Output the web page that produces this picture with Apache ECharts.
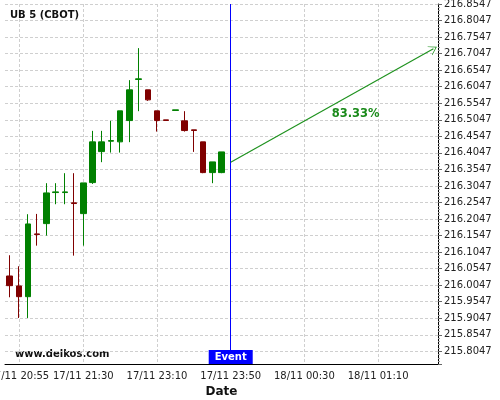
<!DOCTYPE html>
<html>
<head>
<meta charset="utf-8">
<script src="https://cdn.jsdelivr.net/npm/echarts@6/dist/echarts.min.js"></script>
<style>
  html, body { margin: 0; padding: 0; background: #fff; }
  #chart { width: 500px; height: 400px; }
</style>
</head>
<body>
<div id="chart"></div>
<script>
// 5-minute bars, session break between 22:05 and 23:10
const CATEGORIES = [
  '17/11 20:50', '17/11 20:55', '17/11 21:00', '17/11 21:05', '17/11 21:10', '17/11 21:15',
  '17/11 21:20', '17/11 21:25', '17/11 21:30', '17/11 21:35', '17/11 21:40', '17/11 21:45',
  '17/11 21:50', '17/11 21:55', '17/11 22:00', '17/11 22:05', '17/11 23:10', '17/11 23:15',
  '17/11 23:20', '17/11 23:25', '17/11 23:30', '17/11 23:35', '17/11 23:40', '17/11 23:45',
  '17/11 23:50', '17/11 23:55', '18/11 00:00', '18/11 00:05', '18/11 00:10', '18/11 00:15',
  '18/11 00:20', '18/11 00:25', '18/11 00:30', '18/11 00:35', '18/11 00:40', '18/11 00:45',
  '18/11 00:50', '18/11 00:55', '18/11 01:00', '18/11 01:05', '18/11 01:10', '18/11 01:15',
  '18/11 01:20', '18/11 01:25', '18/11 01:30', '18/11 01:35', '18/11 01:40'
];
const X_LABELS = ['17/11 20:55', '17/11 21:30', '17/11 23:10', '17/11 23:50', '18/11 00:30', '18/11 01:10'];

const OPEN = [216.0325, 216.0023, 215.9699, 216.1597, 216.1908, 216.2847, 216.2847, 216.2535,
  216.2210, 216.3148, 216.4085, 216.4399, 216.4379, 216.5023, 216.6265, 216.5952,
  216.5317, 216.5045, 216.5328, 216.5014, 216.4743, 216.4379, 216.3450, 216.3450];
const CLOSE = [216.0032, 215.9699, 216.1898, 216.1577, 216.2836, 216.2867, 216.2867, 216.2515,
  216.3139, 216.4379, 216.4379, 216.4419, 216.5317, 216.5952, 216.6285, 216.5649,
  216.5023, 216.5025, 216.5348, 216.4721, 216.4723, 216.3450, 216.3774, 216.4076];
const LOW = [215.9681, 215.9055, 215.9055, 216.1242, 216.1545, 216.2494, 216.2494, 216.0940,
  216.1242, 216.3108, 216.3765, 216.4055, 216.4055, 216.4370, 216.5307, 216.5619,
  216.4690, 216.5025, 216.5328, 216.4690, 216.4076, 216.3432, 216.3130, 216.3432];
const HIGH = [216.0952, 216.0619, 216.2192, 216.2201, 216.3130, 216.3130, 216.3432, 216.3432,
  216.3139, 216.4712, 216.4712, 216.5014, 216.5317, 216.6245, 216.7213, 216.5952,
  216.5317, 216.5045, 216.5348, 216.5307, 216.4743, 216.4379, 216.3774, 216.4076];

const EVENT_INDEX = 24;
const ARROW_FROM = [24, 216.3765];
const ARROW_TO = [46, 216.7192];
const PROB_LABEL = '83.33%';
const PROB_AT = [38, 216.5271];

const Y_MIN = 215.7664;
const Y_MAX = 216.8547;
// tick labels sit at x.xx47, so the axis runs on prices shifted by this amount
const OFFSET = 0.0047;

const shift = (v) => +(v - OFFSET).toFixed(4);
const FONT = 'DejaVu Sans';

const chart = echarts.init(document.getElementById('chart'));

const candles = OPEN.map((o, i) => [shift(o), shift(CLOSE[i]), shift(LOW[i]), shift(HIGH[i])]);
const showLabel = (idx, val) => X_LABELS.indexOf(val) >= 0;
const showTick = (idx) => idx === 1 || idx === 3 || idx === 5 || (idx >= 6 && idx % 2 === 0);

const option = {
  animation: false,
  title: {
    text: 'UB 5 (CBOT)',
    left: 10,
    top: 10,
    padding: 0,
    textStyle: { fontFamily: FONT, fontSize: 10, fontWeight: 'bold', color: '#111' },
  },
  graphic: [
    {
      type: 'text',
      left: 15,
      top: 349,
      style: { text: 'www.delkos.com', font: 'bold 10px "DejaVu Sans"', fill: '#111' },
    },
  ],
  grid: { left: 5, right: 62, top: 4, bottom: 36, containLabel: false, outerBoundsMode: 'none' },
  xAxis: {
    type: 'category',
    data: CATEGORIES,
    boundaryGap: true,
    name: 'Date',
    nameLocation: 'middle',
    nameGap: 20,
    nameTextStyle: { fontFamily: FONT, fontSize: 12, fontWeight: 'bold', color: '#111' },
    axisLine: { lineStyle: { color: '#000', width: 1 } },
    axisTick: { alignWithLabel: true, interval: showTick, length: 3, lineStyle: { color: '#888' } },
    axisLabel: { interval: showLabel, margin: 7, fontFamily: FONT, fontSize: 10, color: '#222' },
    splitLine: {
      show: true,
      alignWithLabel: true,
      interval: showLabel,
      lineStyle: { color: '#cfcfcf', type: [3, 2] },
    },
  },
  yAxis: {
    type: 'value',
    position: 'right',
    min: shift(Y_MIN),
    max: shift(Y_MAX),
    splitNumber: 21,
    scale: true,
    axisLine: { show: true, lineStyle: { color: '#000', width: 1 } },
    axisTick: { show: true, length: 4, lineStyle: { color: '#666' } },
    minorTick: { show: true, splitNumber: 5, length: 2, lineStyle: { color: '#999' } },
    axisLabel: {
      showMinLabel: false,
      margin: 6,
      fontFamily: FONT,
      fontSize: 10,
      color: '#222',
      formatter: (v) => (v + OFFSET).toFixed(4),
    },
    splitLine: { show: true, lineStyle: { color: '#cfcfcf', type: [3, 2] } },
  },
  series: [
    {
      type: 'candlestick',
      data: candles,
      barWidth: 6,
      itemStyle: {
        color: '#008000',
        color0: '#800000',
        borderColor: '#008000',
        borderColor0: '#800000',
        borderWidth: 1,
      },
      markLine: {
        silent: true,
        symbol: 'none',
        label: { show: false },
        data: [
          { xAxis: EVENT_INDEX, lineStyle: { color: '#0000ff', width: 1, type: 'solid' } },
          [
            {
              coord: [ARROW_FROM[0], shift(ARROW_FROM[1])],
              symbol: 'none',
              lineStyle: { color: '#1f921f', width: 1.2, type: 'solid' },
            },
            {
              coord: [ARROW_TO[0], shift(ARROW_TO[1])],
              symbol: 'path://M-5,10 L0,0 L5,10 L4.2,10 L0,1.8 L-4.2,10 Z',
              symbolSize: [10, 8],
            },
          ],
        ],
      },
      markPoint: {
        silent: true,
        z: 10,
        data: [
          {
            coord: [EVENT_INDEX, shift(Y_MIN)],
            symbol: 'rect',
            symbolSize: [44, 14],
            symbolOffset: [0, '-50%'],
            itemStyle: { color: '#0000ff' },
            label: {
              show: true,
              position: 'inside',
              formatter: 'Event',
              color: '#fff',
              fontFamily: FONT,
              fontSize: 10,
              fontWeight: 'bold',
            },
          },
          {
            coord: [PROB_AT[0], shift(PROB_AT[1])],
            symbol: 'circle',
            symbolSize: 0,
            label: {
              show: true,
              position: 'inside',
              offset: [-4, 1.5],
              formatter: PROB_LABEL,
              color: '#1a8a1a',
              fontFamily: FONT,
              fontSize: 11.5,
              fontWeight: 'bold',
            },
          },
        ],
      },
    },
  ],
};

chart.setOption(option);
</script>
</body>
</html>
